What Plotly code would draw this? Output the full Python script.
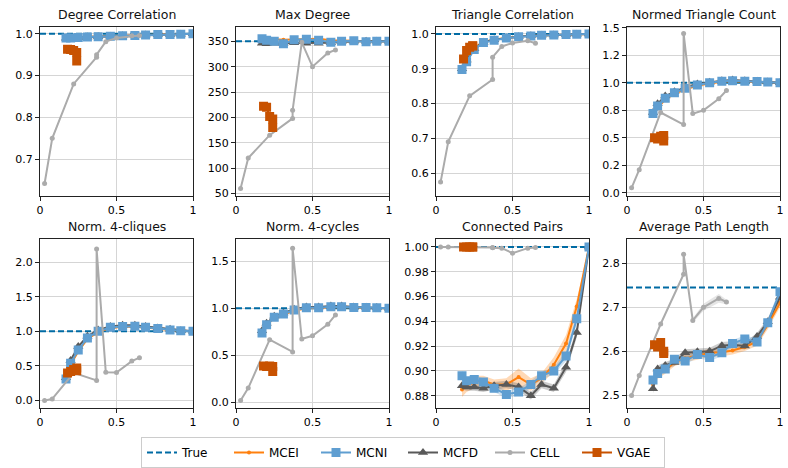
import plotly.graph_objects as go

# ---------------- data ----------------
X_MC = [0.17, 0.2, 0.25, 0.31, 0.38, 0.46, 0.54, 0.62, 0.69, 0.77, 0.85, 0.92, 1.0]
X_CELL = [0.03, 0.08, 0.22, 0.37, 0.37, 0.43, 0.5, 0.6, 0.65]
X_VGAE = [0.18, 0.2, 0.22, 0.24, 0.24]

TITLES = ["Degree Correlation", "Max Degree", "Triangle Correlation", "Normed Triangle Count",
          "Norm. 4-cliques", "Norm. 4-cycles", "Connected Pairs", "Average Path Length"]
TRUE_VALS = [1.0, 350, 1.0, 1.0, 1.0, 1.0, 1.0, 2.745]

# Degree Correlation
dc_mcei = [0.991, 0.991, 0.992, 0.993, 0.994, 0.995, 0.996, 0.997, 0.997, 0.998, 0.999, 0.999, 1.0]
dc_mcni = [0.990, 0.990, 0.991, 0.992, 0.993, 0.994, 0.995, 0.996, 0.997, 0.998, 0.998, 0.999, 1.0]
dc_mcfd = [0.989, 0.990, 0.991, 0.992, 0.993, 0.994, 0.995, 0.996, 0.997, 0.998, 0.998, 0.999, 1.0]
dc_cell = [0.642, 0.75, 0.88, 0.944, 0.95, 0.981, 0.99, 0.995, 0.996]
dc_vgae = [0.963, 0.962, 0.960, 0.955, 0.935]

# Max Degree
md_mcei = [352, 353, 354, 353, 354, 355, 355, 352, 352, 351, 350, 350, 350]
md_mcni = [355, 352, 350, 345, 353, 354, 352, 348, 350, 351, 349, 350, 350]
md_mcfd = [346, 345, 346, 346, 347, 346, 346, 347, 349, 350, 350, 350, 350]
md_cell = [60, 120, 165, 198, 214, 348, 300, 327, 333]
md_vgae = [222, 220, 202, 197, 180]

# Triangle Correlation
tc_mcei = [0.905, 0.93, 0.96, 0.977, 0.984, 0.989, 0.993, 0.995, 0.996, 0.997, 0.998, 0.999, 1.0]
tc_mcni = [0.898, 0.92, 0.955, 0.975, 0.982, 0.988, 0.992, 0.994, 0.996, 0.997, 0.998, 0.999, 1.0]
tc_mcfd = [0.90, 0.925, 0.957, 0.976, 0.983, 0.988, 0.992, 0.995, 0.996, 0.997, 0.998, 0.999, 1.0]
tc_cell = [0.574, 0.69, 0.822, 0.869, 0.933, 0.964, 0.974, 0.98, 0.973]
tc_vgae = [0.928, 0.952, 0.962, 0.966, 0.965]

# Normed Triangle Count
nt_mcei = [0.70, 0.77, 0.85, 0.90, 0.94, 0.975, 0.995, 1.01, 1.015, 1.012, 1.01, 1.005, 1.0]
nt_mcni = [0.72, 0.79, 0.86, 0.91, 0.95, 0.98, 1.0, 1.015, 1.02, 1.015, 1.012, 1.008, 1.0]
nt_mcfd = [0.73, 0.81, 0.88, 0.92, 0.96, 0.99, 1.005, 1.02, 1.025, 1.02, 1.015, 1.008, 1.0]
nt_cell = [0.045, 0.21, 0.73, 0.62, 1.45, 0.72, 0.75, 0.855, 0.93]
nt_vgae = [0.50, 0.49, 0.515, 0.52, 0.47]

# Norm. 4-cliques
cq_mcei = [0.30, 0.52, 0.71, 0.89, 0.99, 1.05, 1.065, 1.07, 1.055, 1.035, 1.02, 1.01, 1.0]
cq_mcni = [0.31, 0.54, 0.73, 0.905, 1.0, 1.06, 1.07, 1.075, 1.06, 1.04, 1.02, 1.01, 1.0]
cq_mcfd = [0.33, 0.58, 0.78, 0.93, 1.02, 1.07, 1.09, 1.09, 1.07, 1.05, 1.03, 1.01, 1.0]
cq_cell = [0.0, 0.024, 0.40, 0.29, 2.19, 0.41, 0.405, 0.57, 0.62]
cq_vgae = [0.40, 0.42, 0.45, 0.47, 0.43]

# Norm. 4-cycles
cy_mcei = [0.73, 0.82, 0.90, 0.935, 0.975, 1.0, 1.005, 1.012, 1.015, 1.01, 1.008, 1.005, 1.0]
cy_mcni = [0.737, 0.825, 0.905, 0.94, 0.982, 1.007, 1.007, 1.018, 1.018, 1.01, 1.01, 1.007, 1.0]
cy_mcfd = [0.76, 0.84, 0.915, 0.95, 0.99, 1.015, 1.015, 1.025, 1.025, 1.015, 1.012, 1.008, 1.0]
cy_cell = [0.017, 0.15, 0.666, 0.536, 1.64, 0.673, 0.708, 0.83, 0.93]
cy_vgae = [0.385, 0.38, 0.385, 0.38, 0.326]

# Connected Pairs
cp_mcei = [0.885, 0.888, 0.891, 0.892, 0.889, 0.889, 0.895, 0.889, 0.894, 0.905, 0.922, 0.952, 1.0]
cp_mcni = [0.896, 0.892, 0.893, 0.891, 0.886, 0.881, 0.883, 0.889, 0.896, 0.900, 0.912, 0.942, 1.0]
cp_mcfd = [0.888, 0.887, 0.887, 0.886, 0.888, 0.889, 0.887, 0.880, 0.889, 0.886, 0.903, 0.931, 1.0]
cp_cell = [1.0, 1.0, 1.0, 0.9995, 0.9993, 0.999, 0.995, 0.999, 0.9995]
cp_vgae = [1.0, 1.0, 1.0, 1.0, 1.0]
cp_mcei_sd = [0.006, 0.005, 0.005, 0.004, 0.004, 0.005, 0.007, 0.005, 0.004, 0.006, 0.007, 0.006, 0.0]
cp_mcni_sd = [0.004, 0.003, 0.003, 0.003, 0.003, 0.003, 0.003, 0.003, 0.003, 0.003, 0.004, 0.004, 0.0]
cp_mcfd_sd = [0.003, 0.003, 0.003, 0.003, 0.003, 0.003, 0.003, 0.003, 0.003, 0.003, 0.004, 0.004, 0.0]

# Average Path Length
ap_mcei = [2.525, 2.548, 2.558, 2.575, 2.585, 2.59, 2.597, 2.598, 2.602, 2.61, 2.622, 2.66, 2.71]
ap_mcni = [2.535, 2.55, 2.56, 2.582, 2.578, 2.593, 2.586, 2.597, 2.618, 2.628, 2.621, 2.665, 2.735]
ap_mcfd = [2.515, 2.56, 2.568, 2.575, 2.597, 2.599, 2.60, 2.613, 2.615, 2.612, 2.634, 2.667, 2.723]
ap_cell = [2.50, 2.545, 2.662, 2.775, 2.82, 2.67, 2.70, 2.72, 2.712]
ap_vgae = [2.615, 2.61, 2.62, 2.60, 2.595]
ap_mcei_sd = [0.012, 0.01, 0.009, 0.009, 0.009, 0.009, 0.009, 0.009, 0.009, 0.009, 0.009, 0.01, 0.01]
ap_mcni_sd = [0.01, 0.008, 0.008, 0.008, 0.008, 0.008, 0.008, 0.008, 0.008, 0.008, 0.008, 0.008, 0.01]
ap_mcfd_sd = [0.01, 0.008, 0.008, 0.008, 0.008, 0.008, 0.008, 0.008, 0.008, 0.008, 0.008, 0.008, 0.01]
ap_cell_sd = [0.0, 0.0, 0.0, 0.0, 0.0, 0.005, 0.008, 0.01, 0.005]

# axis settings (ranges and ticks)
Y_RANGES = [[0.612, 1.017], [45, 379], [0.534, 1.021], [-0.03, 1.512],
            [-0.105, 2.33], [-0.06, 1.735], [0.8702, 1.0061], [2.472, 2.854]]
Y_TICKVALS = [[0.7, 0.8, 0.9, 1.0], [50, 100, 150, 200, 250, 300, 350],
              [0.6, 0.7, 0.8, 0.9, 1.0], [0, 0.25, 0.5, 0.75, 1.0, 1.25, 1.5],
              [0, 0.5, 1.0, 1.5, 2.0], [0, 0.5, 1.0, 1.5],
              [0.88, 0.90, 0.92, 0.94, 0.96, 0.98, 1.00], [2.5, 2.6, 2.7, 2.8]]
Y_TICKTEXT = [["0.7", "0.8", "0.9", "1.0"], ["50", "100", "150", "200", "250", "300", "350"],
              ["0.6", "0.7", "0.8", "0.9", "1.0"], ["0.0", "0.2", "0.5", "0.8", "1.0", "1.2", "1.5"],
              ["0.0", "0.5", "1.0", "1.5", "2.0"], ["0.0", "0.5", "1.0", "1.5"],
              ["0.88", "0.90", "0.92", "0.94", "0.96", "0.98", "1.00"], ["2.5", "2.6", "2.7", "2.8"]]
X_TICKVALS = [0, 0.5, 1]
X_TICKTEXT = ["0", "0.5", "1"]

MCEI = [dc_mcei, md_mcei, tc_mcei, nt_mcei, cq_mcei, cy_mcei, cp_mcei, ap_mcei]
MCNI = [dc_mcni, md_mcni, tc_mcni, nt_mcni, cq_mcni, cy_mcni, cp_mcni, ap_mcni]
MCFD = [dc_mcfd, md_mcfd, tc_mcfd, nt_mcfd, cq_mcfd, cy_mcfd, cp_mcfd, ap_mcfd]
CELL = [dc_cell, md_cell, tc_cell, nt_cell, cq_cell, cy_cell, cp_cell, ap_cell]
VGAE = [dc_vgae, md_vgae, tc_vgae, nt_vgae, cq_vgae, cy_vgae, cp_vgae, ap_vgae]
BANDS = {6: {"MCEI": cp_mcei_sd, "MCNI": cp_mcni_sd, "MCFD": cp_mcfd_sd},
         7: {"MCEI": ap_mcei_sd, "MCNI": ap_mcni_sd, "MCFD": ap_mcfd_sd, "CELL": ap_cell_sd}}

# ---------------- style ----------------
W, H = 788, 468
C_TRUE, C_MCEI, C_MCNI, C_MCFD, C_CELL, C_VGAE = "#006BA4", "#FF800E", "#5F9ED1", "#595959", "#ABABAB", "#C85200"
FILL = {"MCEI": "rgba(255,128,14,0.3)", "MCNI": "rgba(95,158,209,0.3)",
        "MCFD": "rgba(89,89,89,0.3)", "CELL": "rgba(171,171,171,0.3)"}
FONT = "DejaVu Sans"
COLS_PX = [(40, 193), (236, 389), (436, 589), (627, 780)]
ROWS_PX = [(27, 199), (243, 414)]

fig = go.Figure()
annotations = []

for i in range(8):
    r, c = divmod(i, 4)
    ax = "" if i == 0 else str(i + 1)
    xa, ya = "x" + ax, "y" + ax
    first = (i == 0)
    x0, x1 = COLS_PX[c]
    t0, t1 = ROWS_PX[r]
    fig.layout["xaxis" + ax] = dict(
        domain=[x0 / W, x1 / W], anchor=ya, range=[0, 1],
        tickvals=X_TICKVALS, ticktext=X_TICKTEXT)
    fig.layout["yaxis" + ax] = dict(
        domain=[1 - t1 / H, 1 - t0 / H], anchor=xa, range=Y_RANGES[i],
        tickvals=Y_TICKVALS[i], ticktext=Y_TICKTEXT[i])
    annotations.append(dict(text=TITLES[i], x=(x0 + x1) / 2 / W, y=1 - (t0 - 3) / H,
                            xref="paper", yref="paper", xanchor="center", yanchor="bottom",
                            showarrow=False,
                            font=dict(size=12.5, family=FONT, color="#111111", weight="normal")))

    bands = BANDS.get(i, {})
    for name, ys in [("MCEI", MCEI[i]), ("MCFD", MCFD[i]), ("MCNI", MCNI[i]), ("CELL", CELL[i])]:
        if name in bands:
            xs = X_CELL if name == "CELL" else X_MC
            sd = bands[name]
            up = [y + s for y, s in zip(ys, sd)]
            lo = [y - s for y, s in zip(ys, sd)]
            fig.add_trace(go.Scatter(x=xs + xs[::-1], y=up + lo[::-1], fill="toself",
                                     fillcolor=FILL[name], line=dict(width=0), mode="lines",
                                     hoverinfo="skip", showlegend=False, xaxis=xa, yaxis=ya))

    fig.add_trace(go.Scatter(x=[0, 1], y=[TRUE_VALS[i], TRUE_VALS[i]], mode="lines", name="True",
                             line=dict(color=C_TRUE, width=2, dash="6px,3px"),
                             showlegend=first, legendrank=1, xaxis=xa, yaxis=ya))
    fig.add_trace(go.Scatter(x=X_MC, y=MCEI[i], mode="lines+markers", name="MCEI",
                             line=dict(color=C_MCEI, width=2),
                             marker=dict(symbol="circle", size=4, color=C_MCEI),
                             showlegend=first, legendrank=2, xaxis=xa, yaxis=ya))
    fig.add_trace(go.Scatter(x=X_MC, y=MCFD[i], mode="lines+markers", name="MCFD",
                             line=dict(color=C_MCFD, width=2),
                             marker=dict(symbol="triangle-up", size=9, color=C_MCFD),
                             showlegend=first, legendrank=4, xaxis=xa, yaxis=ya))
    fig.add_trace(go.Scatter(x=X_MC, y=MCNI[i], mode="lines+markers", name="MCNI",
                             line=dict(color=C_MCNI, width=2),
                             marker=dict(symbol="square", size=9, color=C_MCNI),
                             showlegend=first, legendrank=3, xaxis=xa, yaxis=ya))
    fig.add_trace(go.Scatter(x=X_CELL, y=CELL[i], mode="lines+markers", name="CELL",
                             line=dict(color=C_CELL, width=2),
                             marker=dict(symbol="circle", size=5, color=C_CELL),
                             showlegend=first, legendrank=5, xaxis=xa, yaxis=ya))
    fig.add_trace(go.Scatter(x=X_VGAE, y=VGAE[i], mode="lines+markers", name="VGAE",
                             line=dict(color=C_VGAE, width=2),
                             marker=dict(symbol="square", size=9, color=C_VGAE),
                             showlegend=first, legendrank=6, xaxis=xa, yaxis=ya))

axis_style = dict(showline=True, mirror=True, linecolor="#222222", linewidth=1,
                  showgrid=True, gridcolor="#d5d5d5", gridwidth=1, zeroline=False,
                  ticks="outside", ticklen=4, tickcolor="#222222", automargin=False,
                  tickfont=dict(size=11, family=FONT, color="black"))
fig.update_xaxes(**axis_style)
fig.update_yaxes(**axis_style)

fig.update_layout(
    width=W, height=H,
    margin=dict(l=0, r=0, t=0, b=0),
    paper_bgcolor="white", plot_bgcolor="white",
    font=dict(family=FONT, size=12, color="black"),
    annotations=annotations,
    showlegend=True,
    legend=dict(orientation="h", x=403 / W, xanchor="center", y=1 - 444 / H, yanchor="top",
                bordercolor="#cccccc", borderwidth=1, bgcolor="white",
                font=dict(size=12, family=FONT, color="black"),
                traceorder="normal", itemwidth=30, entrywidth=42),
)

fig.write_html("out.html", config={"displayModeBar": False},
               post_script="document.body.style.margin='0';document.body.style.padding='0';document.body.style.overflow='hidden';")
